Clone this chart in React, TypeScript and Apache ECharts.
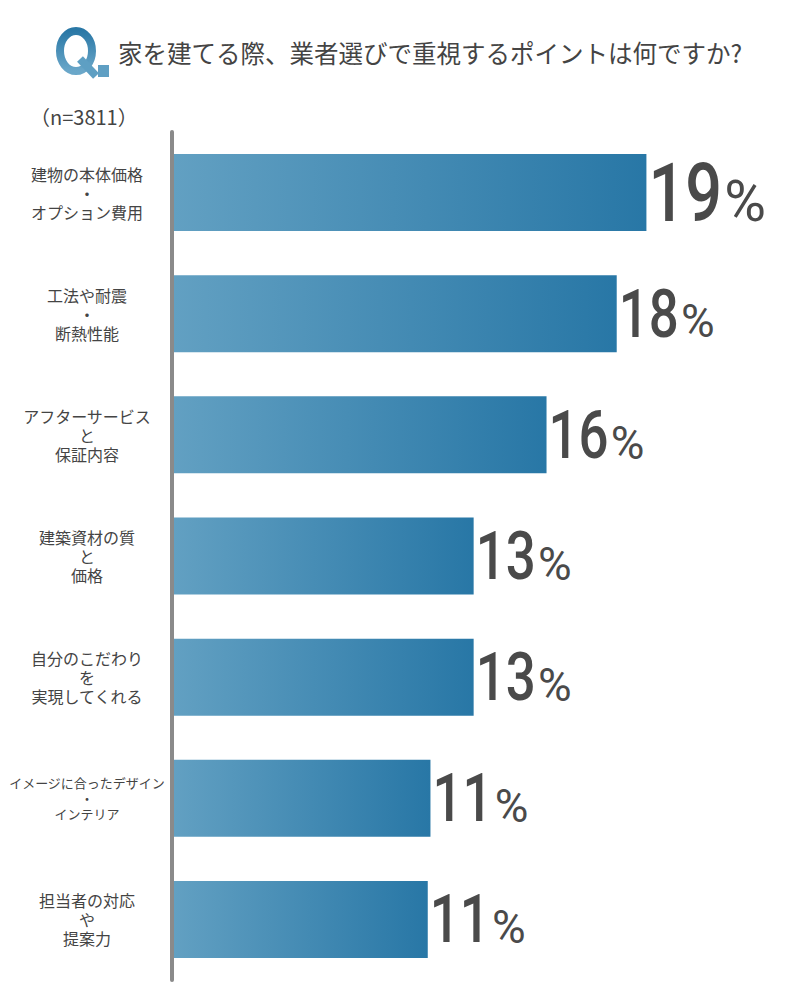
import React, { useEffect, useRef } from "react";
import * as echarts from "echarts";

const categories: string[] = [
  "建物の本体価格\n・\nオプション費用",
  "工法や耐震\n・\n断熱性能",
  "アフターサービス\nと\n保証内容",
  "建築資材の質\nと\n価格",
  "自分のこだわり\nを\n実現してくれる",
  "イメージに合ったデザイン\n・\nインテリア",
  "担当者の対応\nや\n提案力",
];
const values: number[] = [19.2, 18.1, 15.5, 12.8, 12.8, 11.2, 11.1];
const titleText = "家を建てる際、業者選びで重視するポイントは何ですか?";
const sampleText = "（n=3811）";

const CJK = '"Noto Sans CJK JP", "Noto Sans", sans-serif';
const NUM = 'Roboto, "Noto Sans", sans-serif';

export default function App() {
  const ref = useRef<HTMLDivElement>(null);
  useEffect(() => {
    document.body.style.margin = "0";
    if (!ref.current) return;
    const chart = echarts.init(ref.current, undefined, { renderer: "svg" });
    const barGradient = {
      type: "linear",
      x: 0,
      y: 0,
      x2: 1,
      y2: 0,
      colorStops: [
        { offset: 0, color: "#62a0c2" },
        { offset: 1, color: "#2877a6" },
      ],
    };
    const qGradient = () => ({
      type: "linear",
      x: 0,
      y: 0,
      x2: 0,
      y2: 1,
      colorStops: [
        { offset: 0, color: "#2a78a6" },
        { offset: 1, color: "#6aa7c9" },
      ],
    });
    chart.setOption({
      animation: false,
      grid: { left: 174, right: 24, top: 132, bottom: 20, containLabel: false },
      xAxis: {
        type: "value",
        min: 1.7,
        max: 24,
        show: false,
      },
      yAxis: {
        type: "category",
        inverse: true,
        data: categories,
        offset: 2,
        axisLine: { show: true, lineStyle: { color: "#8a8a8a", width: 4 } },
        axisTick: { show: false },
        splitLine: { show: false },
        axisLabel: {
          margin: 85,
          align: "center",
          fontSize: 16,
          lineHeight: 19,
          color: "#444",
          fontFamily: CJK,
          formatter: (val: string, idx: number) =>
            idx === 5
              ? val
                  .split("\n")
                  .map((l) => `{s|${l}}`)
                  .join("\n")
              : val,
          rich: {
            s: { fontSize: 13, lineHeight: 15.5, color: "#444", fontFamily: CJK },
          },
        },
      },
      series: [
        {
          type: "bar",
          data: values,
          barWidth: 77,
          itemStyle: { color: barGradient },
        },
        {
          type: "custom",
          clip: false,
          data: values.map((v, i) => [v, i]),
          encode: { x: 0, y: 1 },
          renderItem: (params: any, api: any) => {
            const v = api.value(0);
            const idx = api.value(1);
            const pt = api.coord([v, idx]);
            const big = idx === 0;
            const F = big ? 81 : 66;
            const Fp = big ? 57 : 46;
            const sx = 0.8;
            const txt = String(Math.round(v));
            const x0 = pt[0] + 2;
            const baseline = pt[1] + 0.3555 * F;
            const adv = txt.length * 0.5615 * F * sx;
            return {
              type: "group",
              children: [
                {
                  type: "text",
                  x: x0,
                  y: pt[1] + 0.014 * F,
                  scaleX: sx,
                  style: {
                    text: txt,
                    font: `500 ${F}px ${NUM}`,
                    fill: "#4a4a4a",
                    align: "left",
                    verticalAlign: "middle",
                  },
                },
                {
                  type: "text",
                  x: x0 + adv + 3,
                  y: baseline - 0.3415 * Fp,
                  style: {
                    text: "%",
                    font: `400 ${Fp}px ${NUM}`,
                    fill: "#4a4a4a",
                    align: "left",
                    verticalAlign: "middle",
                  },
                },
              ],
            };
          },
        },
      ],
      graphic: [
        {
          type: "ellipse",
          shape: { cx: 76, cy: 51, rx: 16, ry: 20 },
          style: { fill: "none", stroke: qGradient(), lineWidth: 8 },
        },
        {
          type: "line",
          shape: { x1: 80, y1: 59, x2: 96, y2: 76 },
          style: { stroke: "#5e9fc3", lineWidth: 8 },
        },
        {
          type: "rect",
          shape: { x: 98, y: 65, width: 11, height: 12 },
          style: { fill: "#5f9fc3" },
        },
        {
          type: "text",
          x: 118,
          y: 52,
          style: {
            text: titleText,
            font: `24.5px ${CJK}`,
            fill: "#444",
            verticalAlign: "middle",
          },
        },
        {
          type: "text",
          x: 30,
          y: 116,
          style: {
            text: sampleText,
            font: `20px ${CJK}`,
            fill: "#444",
            verticalAlign: "middle",
          },
        },
      ],
    });
    return () => chart.dispose();
  }, []);
  return <div ref={ref} style={{ width: 800, height: 1000 }} />;
}
